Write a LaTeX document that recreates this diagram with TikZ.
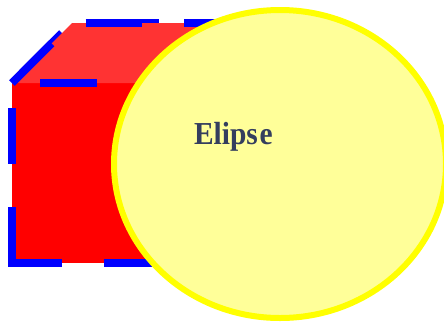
\documentclass[tikz,border=0pt]{standalone}
\usepackage{fontspec}
\usepackage{graphicx}
\usetikzlibrary{shapes.geometric}
\setmainfont{Liberation Serif}
\definecolor{frontred}{RGB}{255,0,0}
\definecolor{topred}{RGB}{255,51,51}
\definecolor{sidered}{RGB}{204,0,0}
\definecolor{edgeblue}{RGB}{0,0,255}
\definecolor{ellfill}{RGB}{255,255,153}
\definecolor{ellline}{RGB}{255,255,0}
\definecolor{txtcol}{RGB}{52,62,94}
\tikzset{
  bluedash/.style={draw=edgeblue, line width=8pt, line cap=butt, line join=miter},
  ellstyle/.style={draw=ellline, fill=ellfill, line width=6pt},
}
\begin{document}
\begin{tikzpicture}[x=1pt,y=-1pt]
\clip (0,0) rectangle (444,322);
% dashes lying under the box fill (only their outer halves show)
\draw[bluedash] (22,73) -- (62,33);
\draw[bluedash] (103,23) -- (159,23);
% box faces
\fill[frontred] (12,83) -- (192,83) -- (192,263) -- (12,263) -- cycle;
\fill[topred] (12,83) -- (72,23) -- (252,23) -- (192,83) -- cycle;
\fill[sidered] (192,83) -- (252,23) -- (252,203) -- (192,263) -- cycle;
% dashed blue outline
\draw[bluedash] (12,83) -- (51.6,43.4);
\draw[bluedash] (85.7,23) -- (141.7,23);
\draw[bluedash] (184,23) -- (240,23);
\draw[bluedash] (40,83) -- (96.7,83);
\draw[bluedash] (12,108) -- (12,164);
\draw[bluedash] (12,207) -- (12,263) -- (62,263);
\draw[bluedash] (104,263) -- (160,263);
% ellipse
\node[ellipse, ellstyle, minimum width=332pt, minimum height=308pt, inner sep=0pt] (ell) at (280,164) {};
\node[anchor=base, text=txtcol, inner sep=0pt] (lbl) at (233.4,144)
  {\scalebox{0.92}[1]{\fontsize{32}{38}\selectfont\bfseries Elips\kern2pt e}};
\end{tikzpicture}
\end{document}
